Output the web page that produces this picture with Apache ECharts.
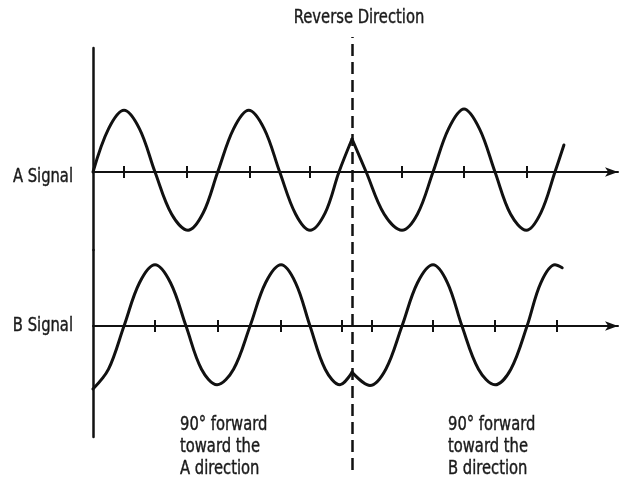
<!DOCTYPE html>
<html>
<head>
<meta charset="utf-8">
<script src="https://cdn.jsdelivr.net/npm/echarts@6/dist/echarts.min.js"></script>
<style>
  html, body { margin: 0; padding: 0; background: #fff; }
  #chart { width: 627px; height: 482px; }
</style>
</head>
<body>
<div id="chart"></div>
<script>
// Quadrature encoder outputs: A and B channels, phase in electrical degrees.
// The shaft reverses at REVERSAL_DEG, so each channel is drawn as two segments.
const REVERSAL_DEG = 752;
const PHASE_MAX = 1524;

const aForward = [
  [0, 0], [45, 0.72], [90, 1.03], [135, 0.72], [180, 0], [228, -0.7], [276, -0.97],
  [320, -0.68], [362, 0], [408, 0.72], [452, 1.03], [497, 0.72], [542, 0],
  [588, -0.7], [630, -0.97], [674, -0.68], [714, 0], [752, 0.55]
];
const aReverse = [
  [752, 0.55], [793, 0], [845, -0.7], [897, -0.97], [942, -0.7], [987, 0],
  [1032, 0.72], [1077, 1.05], [1122, 0.72], [1167, 0], [1212, -0.7], [1258, -0.97],
  [1300, -0.68], [1341, 0], [1367, 0.45]
];
const bForward = [
  [0, -1.05], [45, -0.72], [90, 0], [135, 0.72], [180, 1.02], [225, 0.72], [270, 0],
  [315, -0.72], [360, -0.98], [408, -0.72], [456, 0], [501, 0.72], [546, 1.02],
  [588, 0.72], [630, 0], [674, -0.72], [717, -0.98], [752, -0.77]
];
const bReverse = [
  [752, -0.77], [804, -0.99], [850, -0.72], [897, 0], [942, 0.72], [987, 1.02],
  [1029, 0.72], [1071, 0], [1119, -0.72], [1167, -0.98], [1213, -0.72], [1260, 0],
  [1300, 0.72], [1341, 1.02], [1362, 0.97]
];

const aTicks = [90, 273, 455, 628, 897, 1077, 1260];
const bTicks = [180, 363, 546, 722, 810, 987, 1167, 1347];

const channelNames = ['A Signal', 'B Signal'];
const reversalLabel = 'Reverse Direction';
const directionNotes = [
  '90° forward\ntoward the\nA direction',
  '90° forward\ntoward the\nB direction'
];

// ---- layout (pixels) ----
const FONT = '"DejaVu Sans Condensed", "Liberation Sans Narrow", sans-serif';
const FONT_SIZE = 20;
const SQUEEZE = 0.82;            // horizontal squeeze for a narrow lettering look
const INK = '#111';
const TEXT = '#1a1a1a';
const LEFT = 93, RIGHT = 9;
const UNIT = 60;                 // pixels per unit of amplitude
const A_TOP = 48, A_ZERO = 172, A_BOTTOM = 250;
const B_TOP = 250, B_ZERO = 326, B_BOTTOM = 437;

const chart = echarts.init(document.getElementById('chart'), null, { renderer: 'canvas' });

function signalXAxes(gridIndex, yIndex, ticks) {
  const common = {
    gridIndex, type: 'value', min: 0, max: PHASE_MAX,
    axisLabel: { show: false }, splitLine: { show: false }
  };
  return [
    Object.assign({}, common, {
      position: 'bottom',
      axisLine: {
        show: true, onZero: true, onZeroAxisIndex: yIndex,
        symbol: ['none', 'arrow'], symbolSize: [7, 13], symbolOffset: [0, 0],
        lineStyle: { color: INK, width: 2 }
      },
      axisTick: { show: true, customValues: ticks, length: 6, lineStyle: { color: INK, width: 2 } }
    }),
    Object.assign({}, common, {
      position: 'top',
      axisLine: { show: false, onZero: true, onZeroAxisIndex: yIndex },
      axisTick: { show: true, customValues: ticks, length: 6, lineStyle: { color: INK, width: 2 } }
    })
  ];
}

function signalYAxis(gridIndex, top, zero, bottom) {
  return {
    gridIndex, type: 'value',
    min: -(bottom - zero) / UNIT, max: (zero - top) / UNIT,
    axisLine: { show: true, onZero: false, lineStyle: { color: INK, width: 2.5 } },
    axisTick: { show: false }, axisLabel: { show: false }, splitLine: { show: false }
  };
}

function wave(data, xAxisIndex, yAxisIndex) {
  return {
    type: 'line', data, xAxisIndex, yAxisIndex,
    smooth: 0.35, showSymbol: false, silent: true,
    lineStyle: { color: INK, width: 3, cap: 'round', join: 'round' }
  };
}

function label(text, x, y, align, vAlign) {
  return {
    type: 'text', x, y, scaleX: SQUEEZE, silent: true,
    style: {
      text, fontFamily: FONT, fontSize: FONT_SIZE, lineHeight: 22,
      fill: TEXT, stroke: TEXT, lineWidth: 0.4,
      align, verticalAlign: vAlign
    }
  };
}

const option = {
  backgroundColor: '#fff',
  animation: false,
  grid: [
    { left: LEFT, right: RIGHT, top: A_TOP, height: A_BOTTOM - A_TOP },
    { left: LEFT, right: RIGHT, top: B_TOP, height: B_BOTTOM - B_TOP },
    { left: LEFT, right: RIGHT, top: 37, height: 433 }
  ],
  xAxis: [
    ...signalXAxes(0, 0, aTicks),
    ...signalXAxes(1, 1, bTicks),
    { gridIndex: 2, type: 'value', min: 0, max: PHASE_MAX, show: false }
  ],
  yAxis: [
    signalYAxis(0, A_TOP, A_ZERO, A_BOTTOM),
    signalYAxis(1, B_TOP, B_ZERO, B_BOTTOM),
    { gridIndex: 2, type: 'value', min: 0, max: 1, show: false }
  ],
  series: [
    Object.assign(wave(aForward, 0, 0), { name: channelNames[0] }),
    Object.assign(wave(aReverse, 0, 0), { name: channelNames[0] }),
    Object.assign(wave(bForward, 2, 1), { name: channelNames[1] }),
    Object.assign(wave(bReverse, 2, 1), { name: channelNames[1] }),
    {
      type: 'line', name: reversalLabel, data: [], xAxisIndex: 4, yAxisIndex: 2, silent: true,
      markLine: {
        silent: true, symbol: ['none', 'none'], animation: false,
        lineStyle: { color: INK, width: 2.5, type: [12, 6] },
        label: { show: false },
        data: [{ xAxis: REVERSAL_DEG }]
      }
    }
  ],
  graphic: [
    label(channelNames[0], 73, 177, 'right', 'middle'),
    label(channelNames[1], 73, 326, 'right', 'middle'),
    label(reversalLabel, 359, 18, 'center', 'middle'),
    label(directionNotes[0], 180, 414, 'left', 'top'),
    label(directionNotes[1], 448, 414, 'left', 'top')
  ]
};

chart.setOption(option);
</script>
</body>
</html>
